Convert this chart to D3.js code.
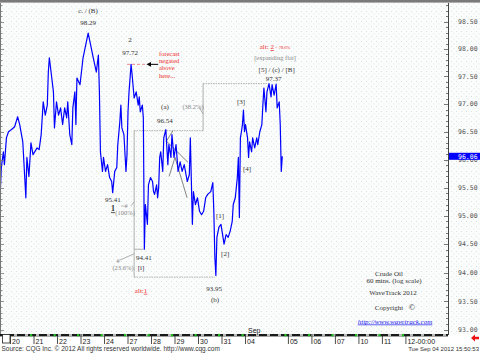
<!DOCTYPE html>
<html>
<head>
<meta charset="utf-8">
<script src="https://cdn.jsdelivr.net/npm/d3@7"></script>
<style>
body { margin: 0; background: #fff; }
svg { display: block; }
.ann { font-family: "Liberation Serif", serif; font-size: 7px; fill: #333; }
.red { fill: #ee2a2a; }
.grey { fill: #8a8a8a; }
.tick-lbl { font-family: "DejaVu Sans Mono", monospace; font-size: 6.5px; fill: #555; }
.day-lbl { font-family: "Liberation Sans", sans-serif; font-size: 7px; fill: #222; }
.foot { font-family: "Liberation Sans", sans-serif; font-size: 6.5px; fill: #333; }
</style>
</head>
<body>
<div id="chart"></div>
<script>

// hourly closes/extremes, hours counted from the open of the 20 Aug session
const hours = [
	-10,-9,-7,-6,-4,-2,1,4,7,9,
	12,15,16,18,20,22,26,28,30,32,
	34,36,37,38,40,42,43,45,47,49,
	51,53,55,56,58,60,61,63,64,65,
	68,71,73,76,79,81,84,86,87,88,
	90,91,93,95,97,99,100,102,104,105,
	107,108,109,111,113,114,115,116,118,119,
	121,123,125,126,127,129,130,131,132,134,
	135,137,139,140,141,143,144,145,146,147,
	149,150,152,154,155,157,158,160,162,164,
	166,168,170,173,175,176,178,179,181,183,
	185,187,189,191,193,196,198,199,200,201,
	202,204,206,208,209,211,213,215,217,218,
	220,222,223,224,225,226,227,228,229,230,
	232,233,234,236,237,239,241,242,244,246,
	247,248,250,251,253,255,256,258,260,261,
	263,264,265,266
]
const prices = [
	95.43,95.86,96.14,95.91,96.39,96.50,96.54,96.59,96.77,96.63,
	96.32,95.32,96.04,95.70,96.30,96.09,96.21,96.18,96.45,97.04,
	96.80,96.98,97.58,97.84,97.53,97.22,96.57,97.04,96.80,96.93,
	96.63,96.93,96.75,97.04,96.45,96.27,96.93,97.22,96.63,97.47,
	97.35,97.84,98.02,98.29,98.02,97.84,97.58,97.89,97.22,96.14,
	95.79,96.04,95.79,95.91,95.68,95.61,95.41,95.79,95.86,96.27,
	96.68,96.98,96.57,96.45,95.79,96.09,96.86,97.22,97.72,97.53,
	97.11,97.22,96.98,97.13,96.86,96.98,96.75,94.41,95.20,94.85,
	95.55,95.68,95.61,95.43,95.38,95.55,95.32,95.50,96.04,96.14,
	95.79,96.39,96.54,95.91,96.27,96.04,96.45,96.04,96.27,95.79,
	95.96,95.79,95.91,95.61,95.73,96.39,94.85,95.43,95.20,95.32,
	95.08,95.02,95.08,95.32,95.38,95.43,95.59,95.08,94.27,93.95,
	94.62,94.80,94.85,94.62,94.50,94.67,94.62,94.73,94.90,95.20,
	95.32,95.68,96.04,94.97,96.39,96.50,96.63,96.89,96.50,96.63,
	96.39,96.04,96.32,96.14,96.39,96.21,96.39,96.27,96.50,96.63,
	96.98,97.29,96.86,97.22,97.37,97.13,97.35,97.16,97.36,96.93,
	97.04,96.63,95.79,96.06
]
const lastPrice = 96.06

// session starts (hours) and their labels; 04 Sep is the long Labor Day session
const dayTicks = [0,23,46,69,92,115,138,161,184,207,230,272,295,318,341,364,387]
const dayLabels = ['20','21','22','23','24','27','28','29','30','31','04','05','06','07','10','11','12-00:00']

const priceTicks = [93,93.5,94,94.5,95,95.5,96,96.5,97,97.5,98,98.5]

// wave labels: text, hour, price
const waveNotes = [
	['c. / (B)', 75.9, 98.71],
	['98.29', 75.9, 98.49],
	['2', 117, 98.17],
	['97.72', 117, 97.93],
	['95.41', 100.3, 95.29],
	['(a)', 151.2, 96.95],
	['96.54', 151.2, 96.70],
	['94.41', 130.5, 94.27],
	['[i]', 127.8, 94.08],
	['93.95', 199.2, 93.72],
	['(b)', 200.2, 93.53],
	['[1]', 205.1, 95.00],
	['[2]', 210.1, 94.33],
	['[3]', 225.6, 97.04],
	['[4]', 231.5, 95.84],
	['[5] / (c) / [B]', 260.5, 97.62],
	['97.37', 257.5, 97.46]
]
const fibNotes = [
	['[expanding flat]', 258.9, 97.84],
	['(38.2%)', 178.6, 96.95],
	['-', 178.6, 97.07],
	['~#', 111.5, 95.18],
	['(100%)', 112.1, 95.06],
	['#', 105.2, 94.20],
	['(23.6%)', 110.1, 94.09]
]
const forecastNote = ['forecast', 'negated', 'above', 'here...']

// gray box / level lines: [h0,p0,h1,p1,dotted]
const levelLines = [
	[121, 96.52, 121, 93.92, 0],
	[121, 96.52, 188.5, 96.52, 1],
	[188.5, 96.52, 188.5, 97.37, 0],
	[188.5, 97.37, 252, 97.37, 1],
	[121, 93.92, 200, 93.92, 1],
	[121, 94.41, 130, 94.41, 0],
	[107, 94.22, 121, 94.33, 0],
	[118, 95.18, 121, 95.25, 0],
	[185, 96.93, 188.5, 96.82, 0]
]
// black channel lines
const channelLines = [
	[152.2, 96.32, 159, 96.52],
	[152.2, 96.34, 173.8, 95.95],
	[155.2, 95.70, 161, 96.04],
	[161, 96.04, 172.8, 95.32]
]

const width = 480, height = 353
const plot = {left:0, right:448, top:3, bottom:334}

const svg = d3.select('#chart').append('svg')
	.attr('width', width)
	.attr('height', height)

const x = d3.scaleLinear().domain([-10.3, 428.2]).range([plot.left, plot.right])
const y = d3.scaleLog().domain([93, 98.5]).range([330, 21.7])

const defs = svg.append('defs')
const pat = defs.append('pattern').attr('id', 'dots')
	.attr('width', 5).attr('height', 5).attr('patternUnits', 'userSpaceOnUse')
pat.append('rect').attr('width', 5).attr('height', 5).attr('fill', '#fbfcfc')
pat.append('rect').attr('x', 1).attr('y', 1).attr('width', 0.8).attr('height', 0.8).attr('fill', '#c8d2d2')
pat.append('rect').attr('x', 3.5).attr('y', 3.5).attr('width', 0.8).attr('height', 0.8).attr('fill', '#d6dddd')

defs.append('marker').attr('id', 'arr')
	.attr('viewBox', '0 0 6 6').attr('refX', 3).attr('refY', 3)
	.attr('markerWidth', 5).attr('markerHeight', 5).attr('orient', 'auto')
	.append('path').attr('d', 'M0,0L6,3L0,6Z').attr('fill', '#000')

svg.append('rect').attr('x', 0).attr('y', plot.top).attr('width', width).attr('height', plot.bottom - plot.top)
	.attr('fill', 'url(#dots)')
svg.append('rect').attr('x', 0).attr('y', 0).attr('width', width).attr('height', 2.6).attr('fill', '#7a7a7a')

// level lines
const lines = svg.append('g')
levelLines.forEach(d => {
	lines.append('line')
	.attr('x1', x(d[0])).attr('y1', y(d[1]))
	.attr('x2', x(d[2])).attr('y2', y(d[3]))
	.attr('stroke', '#9a9a9a').attr('stroke-width', 0.8)
	.attr('stroke-dasharray', d[4] ? '1.5,1' : null)
})

// price line
const line = d3.line()
	.x((d, i) => x(hours[i]))
	.y(d => y(d))

svg.append('path')
	.attr('d', line(prices))
	.attr('fill', 'none')
	.attr('stroke', '#0000ff')
	.attr('stroke-width', 1.2)
	.attr('stroke-linejoin', 'round')

channelLines.forEach(d => {
	lines.append('line')
	.attr('x1', x(d[0])).attr('y1', y(d[1]))
	.attr('x2', x(d[2])).attr('y2', y(d[3]))
	.attr('stroke', '#333').attr('stroke-width', 0.6)
})

// forecast level
svg.append('line')
	.attr('x1', x(114)).attr('x2', x(134))
	.attr('y1', y(97.72)).attr('y2', y(97.72))
	.attr('stroke', '#f08a8a').attr('stroke-width', 1).attr('stroke-dasharray', '3,2')
svg.append('line')
	.attr('x1', x(144.5)).attr('x2', x(135.5))
	.attr('y1', y(97.72)).attr('y2', y(97.72))
	.attr('stroke', '#000').attr('stroke-width', 1)
	.attr('marker-end', 'url(#arr)')

// annotations
const ann = svg.append('g')
waveNotes.forEach(d => {
	ann.append('text').attr('class', 'ann')
	.attr('x', x(d[1])).attr('y', y(d[2])).attr('dy', '0.35em')
	.attr('text-anchor', 'middle').text(d[0])
})
fibNotes.forEach(d => {
	ann.append('text').attr('class', 'ann grey')
	.attr('x', x(d[1])).attr('y', y(d[2])).attr('dy', '0.35em')
	.attr('text-anchor', 'middle').style('font-size', '6.5px').text(d[0])
})
ann.append('text').attr('class', 'ann')
	.attr('x', x(100.3)).attr('y', y(95.13)).attr('dy', '0.35em')
	.attr('text-anchor', 'middle').style('font-size', '8px').style('font-weight', 'bold')
	.style('text-decoration', 'underline').text('1')

forecastNote.forEach((t, i) => {
	ann.append('text').attr('class', 'ann red')
	.attr('x', x(145.4)).attr('y', y([97.91, 97.78, 97.65, 97.51][i])).attr('dy', '0.35em')
	.style('font-size', '6.5px').text(t)
})

const alt2 = ann.append('text').attr('class', 'ann red')
	.attr('x', x(258.9)).attr('y', y(98.04)).attr('dy', '0.35em').attr('text-anchor', 'middle')
alt2.append('tspan').text('alt: ')
alt2.append('tspan').style('text-decoration', 'underline').text('2')
alt2.append('tspan').style('font-size', '4.5px').text(' = 78.6%')

const alt1 = ann.append('text').attr('class', 'ann red')
	.attr('x', x(127.8)).attr('y', y(93.69)).attr('dy', '0.35em').attr('text-anchor', 'middle')
alt1.append('tspan').text('alt:')
alt1.append('tspan').style('text-decoration', 'underline').text('1')

// right axis
const axisG = svg.append('g')
axisG.append('line').attr('x1', plot.right + 0.5).attr('x2', plot.right + 0.5)
	.attr('y1', plot.top).attr('y2', plot.bottom + 1).attr('stroke', '#444').attr('stroke-width', 1)
axisG.append('line').attr('x1', 0.5).attr('x2', 0.5)
	.attr('y1', plot.top).attr('y2', plot.bottom + 1).attr('stroke', '#777').attr('stroke-width', 1)

const minor = d3.range(929, 989).map(d => d / 10).filter(v => y(v) > plot.top && y(v) < plot.bottom)
minor.forEach(v => {
	const major = Math.abs(v * 2 - Math.round(v * 2)) < 1e-6
	axisG.append('line')
	.attr('x1', plot.right - (major ? 4 : 2)).attr('x2', plot.right)
	.attr('y1', Math.round(y(v)) + 0.5).attr('y2', Math.round(y(v)) + 0.5)
	.attr('stroke', '#555').attr('stroke-width', 0.8)
	axisG.append('line')
	.attr('x1', 1).attr('x2', major ? 4 : 2.5)
	.attr('y1', Math.round(y(v)) + 0.5).attr('y2', Math.round(y(v)) + 0.5)
	.attr('stroke', '#777').attr('stroke-width', 0.8)
})

priceTicks.forEach(v => {
	axisG.append('text').attr('class', 'tick-lbl')
	.attr('x', 458).attr('y', y(v)).attr('dy', '0.35em')
	.text(d3.format('.2f')(v))
})

axisG.append('rect')
	.attr('x', plot.right + 1).attr('y', y(lastPrice) - 3.5)
	.attr('width', width - plot.right - 1).attr('height', 7)
	.attr('fill', '#0000ff')
axisG.append('text').attr('class', 'tick-lbl')
	.attr('x', 458).attr('y', y(lastPrice)).attr('dy', '0.35em')
	.style('fill', '#fff').text(d3.format('.2f')(lastPrice))

// time axis
const xa = svg.append('g')
xa.append('rect').attr('x', 0).attr('y', 334).attr('width', plot.right).attr('height', 2.4).attr('fill', '#1a1a1a')
xa.append('line').attr('x1', 3).attr('x2', plot.right).attr('y1', 335.2).attr('y2', 335.2)
	.attr('stroke', '#b8b8b8').attr('stroke-width', 2.4).attr('stroke-dasharray', '3,8')
dayTicks.forEach((t, i) => {
	xa.append('rect').attr('x', x(t) - 4).attr('y', 334).attr('width', 2.2).attr('height', 2.4).attr('fill', '#1fc01f')
	xa.append('line').attr('x1', x(t)).attr('x2', x(t)).attr('y1', 334).attr('y2', 344)
	.attr('stroke', '#222').attr('stroke-width', 0.8)
	xa.append('text').attr('class', 'day-lbl').attr('x', x(t) + 1.5).attr('y', 343.5).text(dayLabels[i])
})
xa.append('text').attr('class', 'day-lbl').attr('x', x(230) + 2.5).attr('y', 333).text('Sep')
xa.append('rect').attr('x', 2.5).attr('y', 334.5).attr('width', 7.5).attr('height', 8.5)
	.attr('fill', '#fff').attr('stroke', '#222').attr('stroke-width', 0.8)

// captions
const cap = svg.append('g').attr('class', 'ann').attr('text-anchor', 'middle')
cap.append('text').attr('x', 389).attr('y', 275.5).text('Crude Oil')
cap.append('text').attr('x', 394).attr('y', 282.5).text('60 mins.  (log scale)')
cap.append('text').attr('x', 393).attr('y', 294.5).text('WaveTrack 2012')
cap.append('text').attr('x', 395).attr('y', 309.5).html('Copyright &#160; <tspan style="font-size:9px">©</tspan>')
cap.append('text').attr('x', 395).attr('y', 323.5)
	.style('fill', '#2020ee').style('font-style', 'italic').style('text-decoration', 'underline')
	.text('http://www.wavetrack.com')

svg.append('text').attr('class', 'foot').attr('x', 1.5).attr('y', 350.5)
	.text('Source: CQG Inc. © 2012 All rights reserved worldwide. http://www.cqg.com')
svg.append('text').attr('class', 'foot').attr('x', 479).attr('y', 351).attr('text-anchor', 'end')
	.style('font-size', '6px').text('Tue Sep 04 2012 15:50:53')

svg.append('path')
	.attr('d', 'M471,338L475,334.5L475,336.7L479,336.7L479,339.3L475,339.3L475,341.5Z')
	.attr('fill', '#ee1111')

</script>
</body>
</html>
